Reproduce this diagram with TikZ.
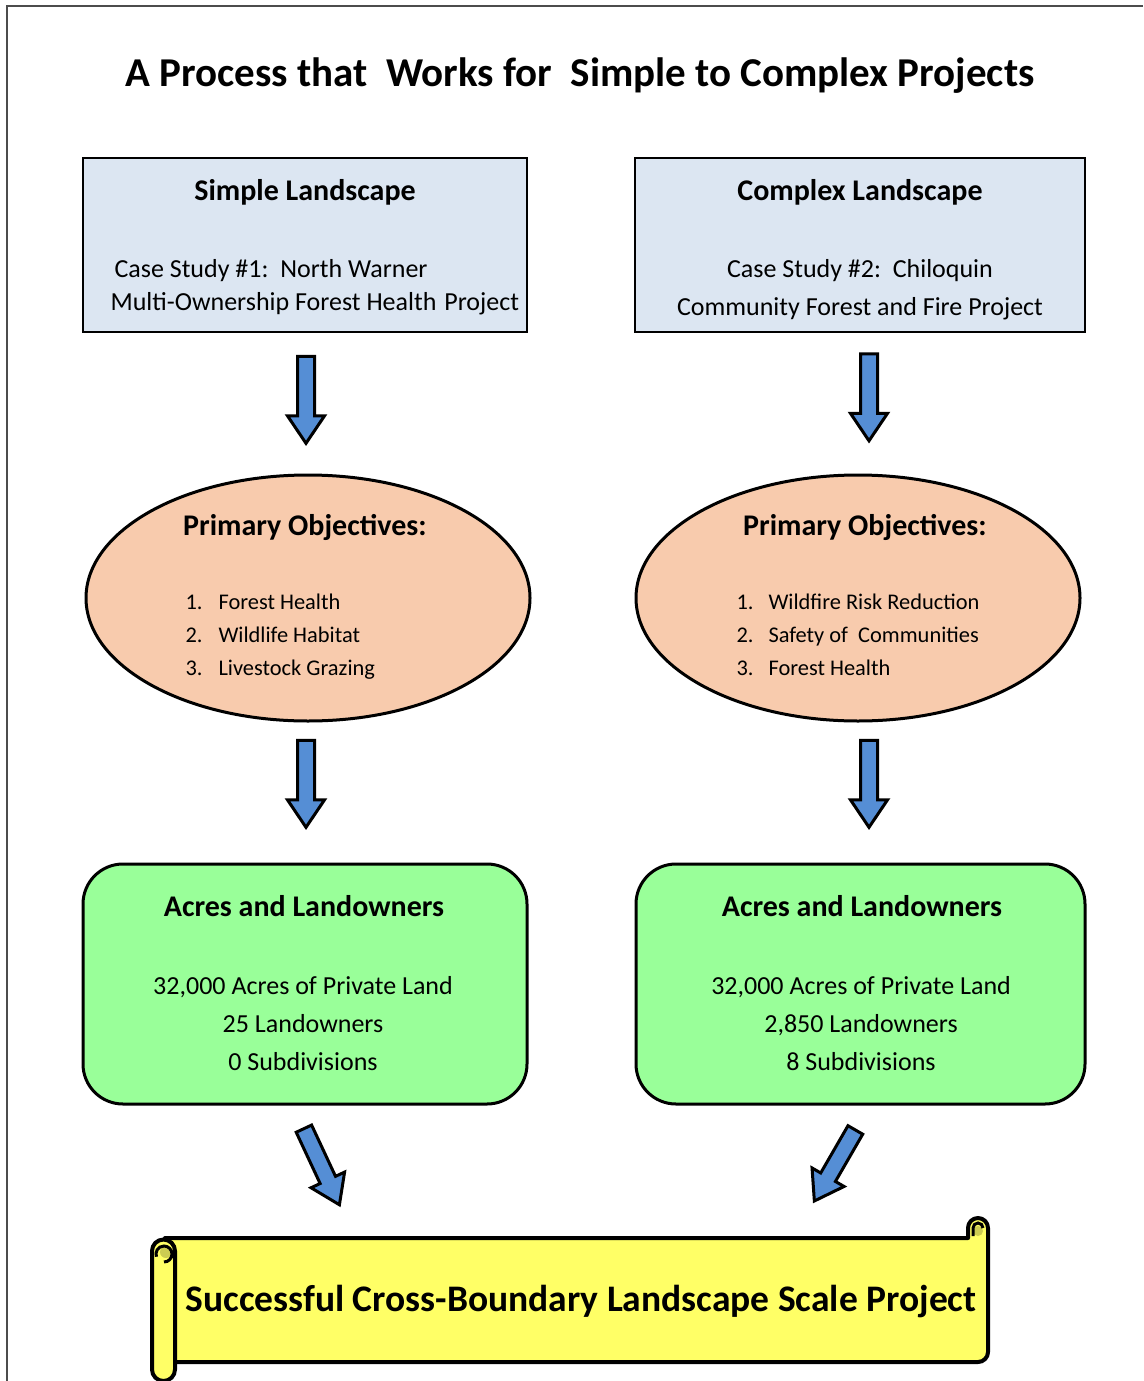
\documentclass[tikz,border=0pt]{standalone}
\usepackage{fontspec}
\setmainfont{Carlito}
\usetikzlibrary{shapes.arrows,shapes.geometric}
\definecolor{boxblue}{HTML}{DCE6F2}
\definecolor{peach}{HTML}{F8CBAD}
\definecolor{mint}{HTML}{99FF99}
\definecolor{scrolly}{HTML}{FFFF66}
\definecolor{curly}{HTML}{CCCC52}
\definecolor{arrblue}{HTML}{558ED5}
\tikzset{
  bluebox/.style={draw=black, line width=2, fill=boxblue},
  ovalbox/.style={draw=black, line width=3, fill=peach, ellipse, inner sep=0},
  greenbox/.style={draw=black, line width=3, fill=mint, rounded corners=40},
  blockarrow/.style={single arrow, draw=black, line width=3, fill=arrblue, inner sep=7,
     minimum width=34, single arrow head extend=10, single arrow tip angle=68},
  headtxt/.style={anchor=base, font=\fontsize{30}{34}\selectfont\bfseries},
  bodytxt/.style={anchor=base, font=\fontsize{26}{30}\selectfont},
  listtxt/.style={anchor=base west, font=\fontsize{22.4}{26}\selectfont},
  scrollline/.style={draw=black, line width=4, fill=scrolly, line join=round}
}
\begin{document}
\begin{tikzpicture}[x=1pt,y=1pt]
\useasboundingbox (0,0) rectangle (1143,-1381);
\draw[black!70, line width=1.2] (7,-1381) coordinate (fb) -- (7,-6) coordinate (fc) -- (1143,-6) coordinate (fr);

\node[anchor=base, font=\fontsize{41}{46}\selectfont\bfseries] (title) at (580,-86) {A Process that\ \ Works for\ \ Simple to Complex Projects};

% top boxes
\node[bluebox, minimum width=444, minimum height=174] (b1) at (305,-245) {};
\node[bluebox, minimum width=450, minimum height=174] (b2) at (860,-245) {};
\node[headtxt] (b1h) at (305,-200) {Simple Landscape};
\node[bodytxt, anchor=base west] (b1a) at (111,-277) {Case Study \#1:\ \ North Warner};
\node[bodytxt, anchor=base west] (b1b) at (107,-310) {Multi-Ownership Forest Health\hspace{2pt} Project};
\node[headtxt] (b2h) at (860,-200) {Complex Landscape};
\node[bodytxt] (b2a) at (860,-277) {Case Study \#2:\ \ Chiloquin};
\node[bodytxt] (b2b) at (860,-315) {Community Forest and Fire Project};

% arrows 1
\node[blockarrow, minimum height=87, rotate=-90] (a1) at (306,-393.5) {};
\node[blockarrow, minimum height=87, rotate=-90] (a2) at (869,-391) {};

% ellipses
\node[ovalbox, minimum width=444, minimum height=246] (e1) at (308,-598) {};
\node[ovalbox, minimum width=444, minimum height=246] (e2) at (858,-598) {};
\node[headtxt] (e1h) at (305,-535) {Primary Objectives:};
\node[headtxt] (e2h) at (865,-535) {Primary Objectives:};
\node[listtxt] (e1n1) at (182,-609) {1.};
\node[listtxt] (e1n2) at (182,-642) {2.};
\node[listtxt] (e1n3) at (182,-675) {3.};
\node[listtxt] (e1t1) at (215,-609) {Forest Health};
\node[listtxt] (e1t2) at (215,-642) {Wildlife Habitat};
\node[listtxt] (e1t3) at (215,-675) {Livestock Grazing};
\node[listtxt] (e2n1) at (733,-609) {1.};
\node[listtxt] (e2n2) at (733,-642) {2.};
\node[listtxt] (e2n3) at (733,-675) {3.};
\node[listtxt] (e2t1) at (765,-609) {Wildfire Risk Reduction};
\node[listtxt] (e2t2) at (765,-642) {Safety of\ \ Communities};
\node[listtxt] (e2t3) at (765,-675) {Forest Health};

% arrows 2
\node[blockarrow, minimum height=87, rotate=-90] (a3) at (306,-777.5) {};
\node[blockarrow, minimum height=87, rotate=-90] (a4) at (869,-777.5) {};

% green boxes
\node[greenbox, minimum width=444, minimum height=240] (g1) at (305,-984) {};
\node[greenbox, minimum width=449, minimum height=240] (g2) at (860.5,-984) {};
\node[headtxt] (g1h) at (304,-916) {Acres and Landowners};
\node[headtxt] (g2h) at (862,-916) {Acres and Landowners};
\node[bodytxt] (g1a) at (303,-994) {32,000 Acres of Private Land};
\node[bodytxt] (g1b) at (303,-1032) {25 Landowners};
\node[bodytxt] (g1c) at (303,-1070) {0 Subdivisions};
\node[bodytxt] (g2a) at (861,-994) {32,000 Acres of Private Land};
\node[bodytxt] (g2b) at (861,-1032) {2,850 Landowners};
\node[bodytxt] (g2c) at (861,-1070) {8 Subdivisions};

% diagonal arrows
\node[blockarrow, minimum height=84, rotate=-65] (a5) at (319,-1161) {};
\node[blockarrow, minimum height=82, rotate=-120] (a6) at (838,-1160) {};

% scroll
\draw[scrollline] (165,-1238) -- (968,-1238) -- (968,-1228) arc[start angle=180, end angle=0, radius=10]
   -- (988,-1352) arc[start angle=0, end angle=-90, radius=10] -- (165,-1362) -- cycle;
\fill[curly] (978,-1231) circle[radius=5];
\draw[black, line width=3] (973,-1236) -- (973,-1228) arc[start angle=180, end angle=0, radius=5];
\draw[scrollline] (152,-1251) arc[start angle=180, end angle=0, radius=11.5] -- (175,-1369.5)
   arc[start angle=0, end angle=-180, radius=11.5] -- cycle;
\fill[curly] (166,-1252) circle[radius=6];
\draw[black, line width=3] (164,-1262) arc[start angle=-90, end angle=200, radius=8];
\node[anchor=base, font=\fontsize{37.5}{42}\selectfont\bfseries] (sc) at (581,-1311) {Successful Cross-Boundary Landscape Scale Project};
\end{tikzpicture}
\end{document}
